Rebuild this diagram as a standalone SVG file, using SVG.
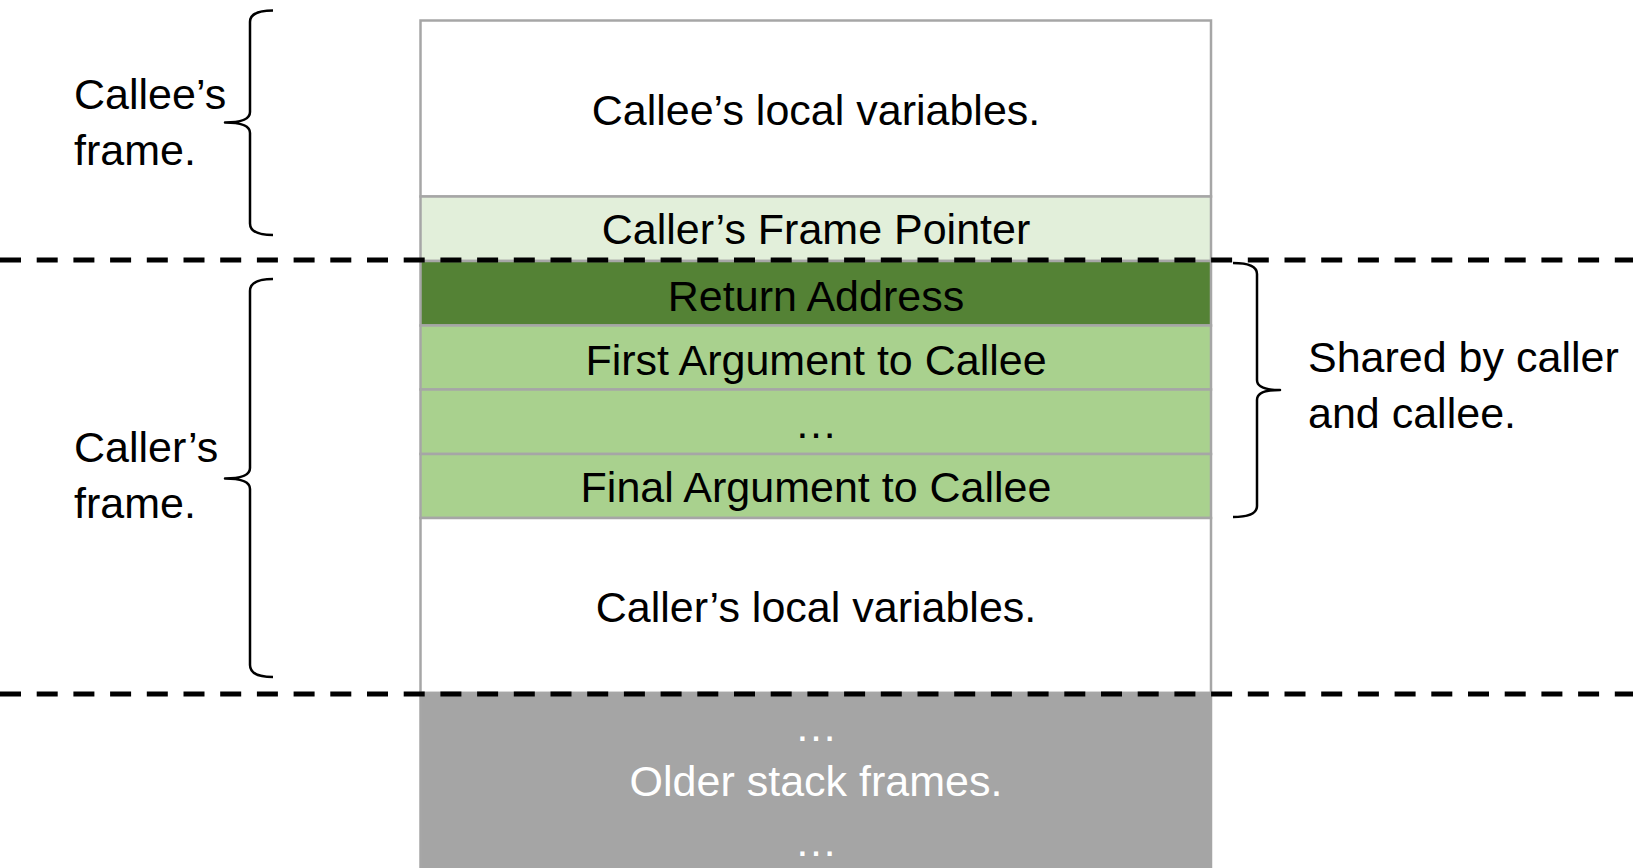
<svg xmlns="http://www.w3.org/2000/svg" width="1633" height="868" viewBox="0 0 1633 868">
  <style>
    text { font-family: "Liberation Sans", Arial, sans-serif; font-size: 43px; fill: #000; }
    .c { text-anchor: middle; }
    .w { fill: #ffffff; }
    .cell { stroke: #a6a6a6; stroke-width: 2.5; }
    .brace { fill: none; stroke: #000; stroke-width: 2.5; stroke-linejoin: round; }
    .dash { stroke: #000; stroke-width: 5; stroke-dasharray: 21 15.7; }
  </style>
  <rect width="1633" height="868" fill="#ffffff"/>

  <g id="callee-locals">
    <rect class="cell" x="420.5" y="20.5" width="790.5" height="176" fill="#ffffff"/>
    <text class="c" x="816" y="125">Callee’s local variables.</text>
  </g>
  <g id="caller-fp">
    <rect class="cell" x="420.5" y="196.5" width="790.5" height="64.5" fill="#e2efda"/>
    <text class="c" x="816" y="244">Caller’s Frame Pointer</text>
  </g>
  <g id="return-address">
    <rect class="cell" x="420.5" y="261" width="790.5" height="64.5" fill="#548235"/>
    <text class="c" x="816" y="311">Return Address</text>
  </g>
  <g id="first-arg">
    <rect class="cell" x="420.5" y="325.5" width="790.5" height="64" fill="#a9d18e"/>
    <text class="c" x="816" y="375">First Argument to Callee</text>
  </g>
  <g id="arg-ellipsis">
    <rect class="cell" x="420.5" y="389.5" width="790.5" height="64.5" fill="#a9d18e"/>
    <text class="c" x="816" y="438">…</text>
  </g>
  <g id="final-arg">
    <rect class="cell" x="420.5" y="454" width="790.5" height="64" fill="#a9d18e"/>
    <text class="c" x="816" y="502">Final Argument to Callee</text>
  </g>
  <g id="caller-locals">
    <rect class="cell" x="420.5" y="518" width="790.5" height="175" fill="#ffffff"/>
    <text class="c" x="816" y="622">Caller’s local variables.</text>
  </g>
  <g id="older-frames">
    <rect class="cell" x="420.5" y="693" width="790.5" height="180" fill="#a5a5a5"/>
    <text class="c w" x="816" y="741">…</text>
    <text class="c w" x="816" y="796">Older stack frames.</text>
    <text class="c w" x="816" y="856">…</text>
  </g>

  <g id="connectors">
    <line class="dash" x1="0" y1="260" x2="1633" y2="260"/>
    <line class="dash" x1="0" y1="694" x2="1633" y2="694"/>
    <path class="brace" d="M273,10.5 Q250,10.5 250,22 L250,112 Q250,122.5 225,122.5 Q250,122.5 250,133 L250,223.5 Q250,235 273,235"/>
    <path class="brace" d="M273,279 Q250,279 250,291 L250,468 Q250,478.5 225,478.5 Q250,478.5 250,489 L250,665 Q250,677 273,677"/>
    <path class="brace" d="M1233,263 Q1257,263 1257,274 L1257,380 Q1257,390 1280,390 Q1257,390 1257,400 L1257,506 Q1257,517 1233,517"/>
  </g>

  <g id="callee-frame-label">
    <text x="74" y="109">Callee’s</text>
    <text x="74" y="165">frame.</text>
  </g>
  <g id="caller-frame-label">
    <text x="74" y="462">Caller’s</text>
    <text x="74" y="518">frame.</text>
  </g>
  <g id="shared-label">
    <text x="1308" y="372">Shared by caller</text>
    <text x="1308" y="428">and callee.</text>
  </g>
</svg>
